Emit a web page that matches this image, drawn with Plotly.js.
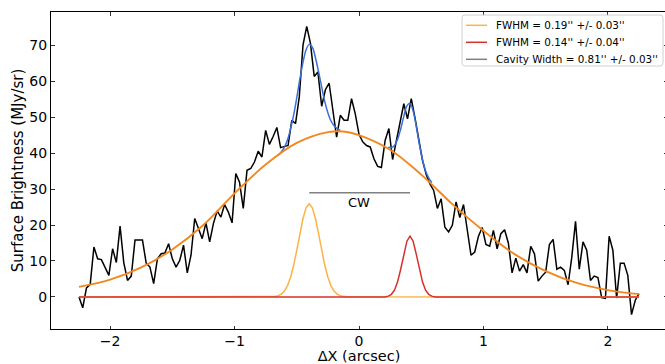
<!DOCTYPE html>
<html>
<head>
<meta charset="utf-8">
<script src="https://cdn.plot.ly/plotly-3.0.1.min.js"></script>
<style>
html, body { margin:0; padding:0; overflow:hidden; background:#fff; width:665px; height:364px; }
#chart { width:668px; height:364px; }
</style>
</head>
<body>
<div id="chart"></div>
<script>
// Observed surface brightness profile (sampled every 0.03 arcsec from -2.25)
const profileStart = -2.25;
const profileStep = 0.03;
const surfaceBrightness = [
  0, -3, 2.5, 3.5, 13.9, 10.6, 10.4, 8.2, 6.0, 13.4,
  9.6, 19.7, 9.5, 4.6, 5.8, 15.8, 15.7, 15.8, 9.4, 8.3,
  3.7, 10.6, 12.0, 12.2, 14.8, 10.6, 8.3, 10.2, 14.4, 6.7,
  11.6, 21.8, 19.0, 16.2, 20.6, 15.3, 20.4, 23.9, 22.2, 25.7,
  23.6, 20.6, 34.3, 31.9, 24.6, 35.2, 35.7, 37.5, 40.5, 38.9,
  46.3, 42.4, 44.6, 47.1, 41.5, 41.7, 42.1, 49.1, 48.2, 55.6,
  70.0, 75.2, 70.5, 61.3, 62.5, 53.0, 57.6, 59.4, 51.9, 44.4,
  50.5, 49.1, 49.1, 55.1, 50.9, 45.2, 43.1, 42.1, 41.7, 38.4,
  36.3, 36.0, 43.5, 46.8, 38.2, 43.3, 48.3, 53.7, 49.5, 55.1,
  49.8, 43.5, 38.0, 34.0, 31.4, 29.6, 24.6, 27.3, 19.4, 18.1,
  19.9, 26.4, 22.1, 25.7, 18.5, 11.6, 12.5, 16.9, 19.3, 14.6,
  14.1, 18.5, 13.4, 17.6, 18.7, 15.0, 6.7, 10.8, 7.2, 9.0,
  6.7, 14.1, 12.0, 4.4, 5.8, 6.9, 14.6, 16.0, 7.7, 8.3,
  7.4, 3.4, 11.1, 21.0, 7.7, 15.3, 13.0, 4.6, 5.8, 5.4,
  -0.2, -0.4, 16.9, 13.0, -0.3, 9.4, 9.4, 6.0, -4.9, -0.9, 0.9
];
const profileX = surfaceBrightness.map((_, i) => +(profileStart + profileStep * i).toFixed(3));

// Broad fitted component (orange)
const broadX = [-2.25, -2.0, -1.75, -1.5, -1.25, -1.0, -0.75, -0.5, -0.25, -0.125, 0.0, 0.25, 0.5, 0.75, 1.0, 1.25, 1.5, 1.75, 2.0, 2.25];
const broadY = [2.8, 4.8, 8.2, 13.2, 20.0, 28.8, 36.8, 42.8, 45.8, 46.0, 45.0, 40.9, 34.0, 25.8, 18.4, 11.9, 7.2, 3.9, 1.9, 0.8];

// Left narrow component (yellow), FWHM 0.19''
const leftX = [-2.25, -0.7, -0.675, -0.65, -0.625, -0.6, -0.575, -0.55, -0.525, -0.5, -0.475, -0.45, -0.425, -0.4, -0.375, -0.35, -0.325, -0.3, -0.275, -0.25, -0.225, -0.2, -0.175, -0.15, -0.125, -0.1, 2.25];
const leftY = [0, 0.05, 0.14, 0.34, 0.8, 1.6, 3.1, 5.5, 8.8, 13.0, 17.6, 21.8, 24.8, 25.9, 24.8, 21.8, 17.6, 13.0, 8.8, 5.5, 3.1, 1.6, 0.8, 0.34, 0.14, 0.05, 0];

// Right narrow component (red), FWHM 0.14''
const rightX = [-2.25, 0.21, 0.235, 0.26, 0.285, 0.31, 0.335, 0.36, 0.385, 0.41, 0.435, 0.46, 0.485, 0.51, 0.535, 0.56, 0.585, 0.61, 2.25];
const rightY = [0, 0, 0.24, 0.74, 1.9, 4.2, 7.7, 11.9, 15.5, 16.9, 15.5, 11.9, 7.7, 4.2, 1.9, 0.74, 0.24, 0, 0];

// Combined fits (blue) over the two peak windows
const blueLeftX = [-0.65, -0.625, -0.6, -0.575, -0.55, -0.525, -0.5, -0.475, -0.45, -0.425, -0.4, -0.375, -0.35, -0.325, -0.3, -0.275, -0.25, -0.225, -0.2, -0.175, -0.15];
const blueLeftY = [39.4, 40.3, 41.6, 43.6, 46.7, 50.6, 55.4, 60.6, 65.2, 68.7, 70.2, 69.4, 66.5, 62.6, 58.4, 54.3, 51.2, 48.9, 47.6, 46.8, 46.3];
const blueRightX = [0.235, 0.26, 0.285, 0.31, 0.335, 0.36, 0.385, 0.41, 0.435, 0.46, 0.485, 0.51, 0.535, 0.56, 0.585];
const blueRightY = [41.6, 41.5, 42.1, 43.8, 46.7, 50.2, 53.1, 53.8, 51.7, 47.4, 42.4, 38.2, 35.1, 33.1, 31.8];

// Cavity width marker
const cavityX = [-0.40, 0.41];
const cavityY = [29, 29];

const legendNames = ["FWHM = 0.19'' +/- 0.03''", "FWHM = 0.14'' +/- 0.04''", "Cavity Width = 0.81'' +/- 0.03''"];
const legendColors = ['#fbb444', '#d7302c', '#808080'];
const xTicks = [-2, -1, 0, 1, 2];
const yTicks = [0, 10, 20, 30, 40, 50, 60, 70];

const traces = [
  {x: profileX, y: surfaceBrightness, type:'scatter', mode:'lines', line:{color:'#000000', width:1.5}, showlegend:false},
  {x: blueLeftX, y: blueLeftY, type:'scatter', mode:'lines', line:{color:'#3b6fdb', width:1.5, shape:'spline'}, showlegend:false},
  {x: blueRightX, y: blueRightY, type:'scatter', mode:'lines', line:{color:'#3b6fdb', width:1.5, shape:'spline'}, showlegend:false},
  {x: broadX, y: broadY, type:'scatter', mode:'lines', line:{color:'#f3871d', width:1.9, shape:'spline'}, showlegend:false},
  {x: leftX, y: leftY, type:'scatter', mode:'lines', name: legendNames[0], line:{color:legendColors[0], width:1.5}, showlegend:false},
  {x: rightX, y: rightY, type:'scatter', mode:'lines', name: legendNames[1], line:{color:legendColors[1], width:1.5}, showlegend:false},
  {x: cavityX, y: cavityY, type:'scatter', mode:'lines', name: legendNames[2], line:{color:legendColors[2], width:1.5}, showlegend:false}
];

// Legend (drawn in pixel positions of the 668x364 page, converted to paper coords)
const plotL = 51, plotR = 667, plotT = 12, plotB = 329;
const px2x = p => (p - plotL) / (plotR - plotL);
const px2y = p => (plotB - p) / (plotB - plotT);
const box = {l:462, r:663, t:15, b:66, rad:3};
const rowsY = [25.3, 42.3, 59.3];

const shapes = [];
const bx0 = px2x(box.l), bx1 = px2x(box.r), by0 = px2y(box.b), by1 = px2y(box.t);
const rx = box.rad / (plotR - plotL), ry = box.rad / (plotB - plotT);
shapes.push({
  type:'path', xref:'paper', yref:'paper',
  path:`M ${bx0+rx},${by1} L ${bx1-rx},${by1} Q ${bx1},${by1} ${bx1},${by1-ry} L ${bx1},${by0+ry} Q ${bx1},${by0} ${bx1-rx},${by0} L ${bx0+rx},${by0} Q ${bx0},${by0} ${bx0},${by0+ry} L ${bx0},${by1-ry} Q ${bx0},${by1} ${bx0+rx},${by1} Z`,
  fillcolor:'rgba(255,255,255,0.85)', line:{color:'#d0d0d0', width:1}
});
const annotations = [
  {x:0, y:26.3, xref:'x', yref:'y', text:'CW', showarrow:false, font:{family:'DejaVu Sans', size:13, color:'#000'}}
];
legendNames.forEach((name, k) => {
  shapes.push({type:'line', xref:'paper', yref:'paper', x0:px2x(466), x1:px2x(487), y0:px2y(rowsY[k]), y1:px2y(rowsY[k]), line:{color:legendColors[k], width:1.5}});
  annotations.push({x:px2x(494), y:px2y(rowsY[k]), xref:'paper', yref:'paper', xanchor:'left', yanchor:'middle', text:name, showarrow:false, font:{family:'DejaVu Sans', size:10.4, color:'#000'}});
});

const axisCommon = {
  ticks:'inside', ticklen:3.5, tickwidth:0.8, tickcolor:'#000',
  showline:true, linecolor:'#000', linewidth:1, mirror:'ticks',
  showgrid:false, zeroline:false,
  tickfont:{family:'DejaVu Sans', size:14, color:'#000'}
};

const layout = {
  width:668, height:364,
  margin:{l:plotL, r:668-plotR, t:plotT, b:364-plotB, pad:0},
  paper_bgcolor:'#ffffff', plot_bgcolor:'#ffffff',
  font:{family:'DejaVu Sans', size:14, color:'#000'},
  xaxis: Object.assign({}, axisCommon, {
    range:[-2.475, 2.475], tickvals:xTicks, ticklabelstandoff:-1,
    title:{text:'ΔX (arcsec)', font:{family:'DejaVu Sans', size:14.5, color:'#000'}, standoff:4}
  }),
  yaxis: Object.assign({}, axisCommon, {
    range:[-8.9, 79.2], tickvals:yTicks,
    title:{text:'Surface Brightness (MJy/sr)', font:{family:'DejaVu Sans', size:15, color:'#000'}, standoff:2}
  }),
  shapes: shapes,
  annotations: annotations,
  showlegend:false
};

Plotly.newPlot('chart', traces, layout, {displayModeBar:false, staticPlot:true});
</script>
</body>
</html>
